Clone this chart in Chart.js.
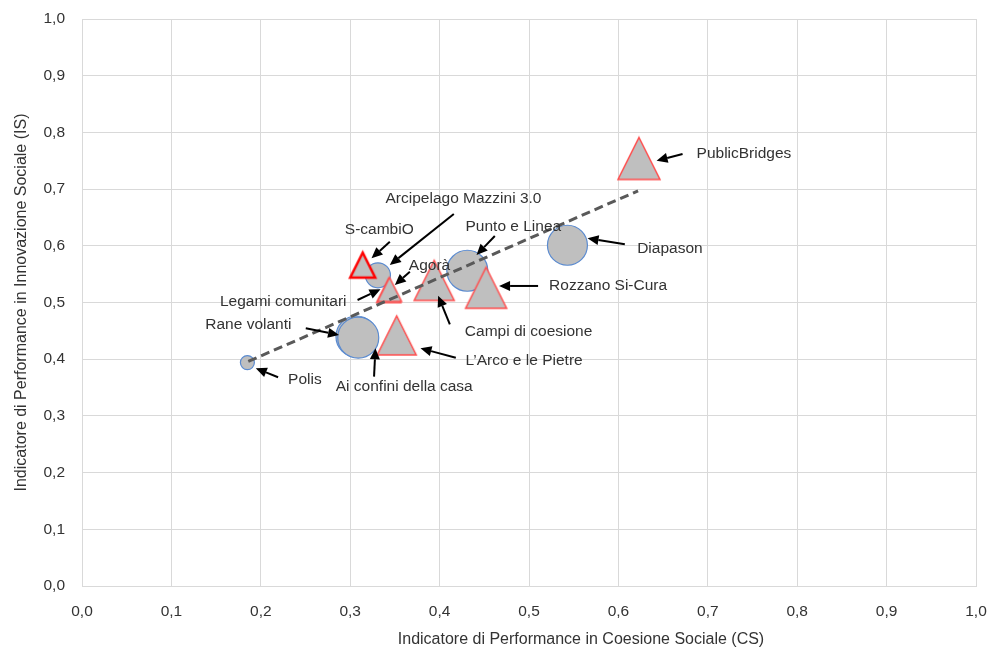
<!DOCTYPE html>
<html>
<head>
<meta charset="utf-8">
<script src="https://cdn.jsdelivr.net/npm/chart.js@4.4.0/dist/chart.umd.min.js"></script>
<style>
  html, body { margin: 0; padding: 0; background: #fff; }
  #wrap { width: 991px; height: 649px; }
</style>
</head>
<body>
<div id="wrap"><canvas id="grafico"></canvas></div>
<script>
// progetti a forma di cerchio
const nomiCerchi = ['Polis', 'Rane volanti', 'Ai confini della casa', 'Arcipelago Mazzini 3.0', 'Punto e Linea', 'Diapason'];
const csCerchi = [0.185, 0.307, 0.309, 0.331, 0.431, 0.543];
const isCerchi = [0.394, 0.440, 0.438, 0.548, 0.556, 0.601];
const pesoCerchi = [14, 41, 41, 25, 41, 40];

// progetti a forma di triangolo
const nomiTriangoli = ['S-cambiO', 'Legami comunitari', 'Agorà', 'L’Arco e le Pietre', 'Campi di coesione', 'Rozzano Si-Cura', 'PublicBridges'];
const csTriangoli = [0.314, 0.343, 0.344, 0.352, 0.394, 0.452, 0.623];
const isTriangoli = [0.566, 0.521, 0.523, 0.442, 0.539, 0.526, 0.754];
const pesoTriangoli = [25, 24, 24, 39, 40, 41, 42];

// linea di tendenza
const trendCS = [0.186, 0.622];
const trendIS = [0.396, 0.697];

const tickValori = [0, 0.1, 0.2, 0.3, 0.4, 0.5, 0.6, 0.7, 0.8, 0.9, 1.0];

const FONT = "'Liberation Sans', Arial, sans-serif";
const TESTO = '#333333';
const GRIGLIA = '#d9d9d9';

// posizione etichette e frecce rispetto al punto (px): testo, coda, punta
const etichette = {
  'Polis':                  { t: [40.7, 17.4], da: [30.7, 14.7], a: [8.4, 5.7] },
  'Rane volanti':           { t: [-65, -11.5], da: [-50.7, -8.2], a: [-17.4, -1.5], dx: true },
  'Ai confini della casa':  { t: [-22.5, 49], da: [15.8, 39], a: [17.2, 10.6] },
  'Arcipelago Mazzini 3.0': { t: [7.6, -77], da: [75.9, -61.3], a: [11.9, -10.3] },
  'Punto e Linea':          { t: [-1.8, -44], da: [27.5, -34.7], a: [9.2, -15.7] },
  'Diapason':               { t: [69.7, 3.1], da: [57.4, -0.9], a: [20.1, -6.9] },
  'S-cambiO':               { t: [-17.9, -35.1], da: [27.1, -23.4], a: [8.8, -6.8] },
  'Legami comunitari':      { t: [-42.1, 11.1], da: [-31.1, 9.4], a: [-8.1, -1.3], dx: true },
  'Agorà':                  { t: [19.3, -23.5], da: [20.3, -17.8], a: [5.3, -4.5] },
  'L’Arco e le Pietre':     { t: [68.8, 25.3], da: [59.1, 22.3], a: [23.8, 12.9] },
  'Campi di coesione':      { t: [30.6, 51.3], da: [15.6, 43.9], a: [3.9, 15.3] },
  'Rozzano Si-Cura':        { t: [63, -1.8], da: [52, -1.8], a: [13, -1.8] },
  'PublicBridges':          { t: [57.6, -4.5], da: [43.6, -4.5], a: [17.6, 2.2] }
};

function triangolo(lato, bordo, spessore) {
  const pad = Math.ceil(spessore) + 1;
  const c = document.createElement('canvas');
  c.width = lato + pad * 2;
  c.height = lato + pad * 2;
  const g = c.getContext('2d');
  g.beginPath();
  g.moveTo(pad + lato / 2, pad);
  g.lineTo(pad + lato, pad + lato);
  g.lineTo(pad, pad + lato);
  g.closePath();
  g.fillStyle = '#bfbfbf';
  g.fill();
  g.lineWidth = spessore;
  g.strokeStyle = bordo;
  g.stroke();
  return c;
}

const formeTriangoli = pesoTriangoli.map((p, i) =>
  nomiTriangoli[i] === 'S-cambiO' ? triangolo(p, '#ff0000', 2.5) : triangolo(p, '#ff4d4d', 1.5));

function freccia(ctx, x1, y1, x2, y2) {
  const ang = Math.atan2(y2 - y1, x2 - x1);
  const L = 11, W = 5;
  const bx = x2 - L * Math.cos(ang), by = y2 - L * Math.sin(ang);
  ctx.beginPath();
  ctx.moveTo(x1, y1);
  ctx.lineTo(bx, by);
  ctx.lineWidth = 2;
  ctx.strokeStyle = '#000';
  ctx.stroke();
  ctx.beginPath();
  ctx.moveTo(x2, y2);
  ctx.lineTo(bx + W * Math.sin(ang), by - W * Math.cos(ang));
  ctx.lineTo(bx - W * Math.sin(ang), by + W * Math.cos(ang));
  ctx.closePath();
  ctx.fillStyle = '#000';
  ctx.fill();
}

const pluginEtichette = {
  id: 'etichette',
  afterDatasetsDraw(chart) {
    const ctx = chart.ctx;
    const sx = chart.scales.x, sy = chart.scales.y;
    const punti = [];
    nomiCerchi.forEach((n, i) => punti.push([n, csCerchi[i], isCerchi[i]]));
    nomiTriangoli.forEach((n, i) => punti.push([n, csTriangoli[i], isTriangoli[i]]));
    ctx.save();
    ctx.font = '15.5px ' + FONT;
    ctx.textBaseline = 'middle';
    punti.forEach(([nome, x, y]) => {
      const e = etichette[nome];
      const px = sx.getPixelForValue(x), py = sy.getPixelForValue(y);
      freccia(ctx, px + e.da[0], py + e.da[1], px + e.a[0], py + e.a[1]);
      ctx.fillStyle = TESTO;
      ctx.textAlign = e.dx ? 'right' : 'left';
      ctx.fillText(nome, px + e.t[0], py + e.t[1]);
    });
    // titolo asse x
    const a = chart.chartArea;
    ctx.font = '16px ' + FONT;
    ctx.textAlign = 'center';
    ctx.fillStyle = TESTO;
    ctx.fillText('Indicatore di Performance in Coesione Sociale (CS)', (a.left + a.right) / 2 + 52, 640);
    ctx.restore();
  }
};

const etichettaTick = v => Number(v).toFixed(1).replace('.', ',');

new Chart(document.getElementById('grafico'), {
  type: 'bubble',
  data: {
    datasets: [
      {
        type: 'line',
        data: trendCS.map((x, i) => ({ x: x, y: trendIS[i] })),
        borderColor: '#595959',
        borderWidth: 3,
        borderDash: [9, 5],
        pointRadius: 0,
        fill: false,
        order: 0
      },
      {
        type: 'scatter',
        data: csTriangoli.map((x, i) => ({ x: x, y: isTriangoli[i] })),
        pointStyle: formeTriangoli,
        pointRadius: pesoTriangoli.map(p => p / 2),
        order: 1
      },
      {
        type: 'bubble',
        data: csCerchi.map((x, i) => ({ x: x, y: isCerchi[i], r: pesoCerchi[i] / 2 })),
        backgroundColor: '#bfbfbf',
        borderColor: '#5b8bd0',
        borderWidth: 1.2,
        order: 2
      }
    ]
  },
  options: {
    responsive: true,
    maintainAspectRatio: false,
    animation: false,
    layout: { autoPadding: false, padding: { left: 0, right: 15, top: 19, bottom: 0 } },
    plugins: {
      legend: { display: false },
      tooltip: { enabled: false }
    },
    scales: {
      x: {
        type: 'linear',
        min: 0,
        max: 1,
        afterBuildTicks: s => { s.ticks = tickValori.map(v => ({ value: v })); },
        afterFit: s => { s.height = 63; s.paddingLeft = 0; s.paddingRight = 0; },
        grid: { color: GRIGLIA, drawTicks: false, lineWidth: 1 },
        border: { color: GRIGLIA },
        ticks: {
          padding: 16,
          color: TESTO,
          font: { family: FONT, size: 15.5 },
          callback: etichettaTick,
          maxRotation: 0
        }
      },
      y: {
        type: 'linear',
        min: 0,
        max: 1,
        afterBuildTicks: s => { s.ticks = tickValori.map(v => ({ value: v })); },
        afterFit: s => { s.width = 82; s.paddingTop = 0; s.paddingBottom = 0; },
        grid: { color: GRIGLIA, drawTicks: false, lineWidth: 1 },
        border: { color: GRIGLIA },
        ticks: {
          padding: 17,
          color: TESTO,
          font: { family: FONT, size: 15.5 },
          callback: etichettaTick
        },
        title: {
          display: true,
          text: 'Indicatore di Performance in Innovazione Sociale (IS)',
          color: TESTO,
          font: { family: FONT, size: 16 },
          padding: { top: 12.4, bottom: 0 }
        }
      }
    }
  },
  plugins: [pluginEtichette]
});
</script>
</body>
</html>
